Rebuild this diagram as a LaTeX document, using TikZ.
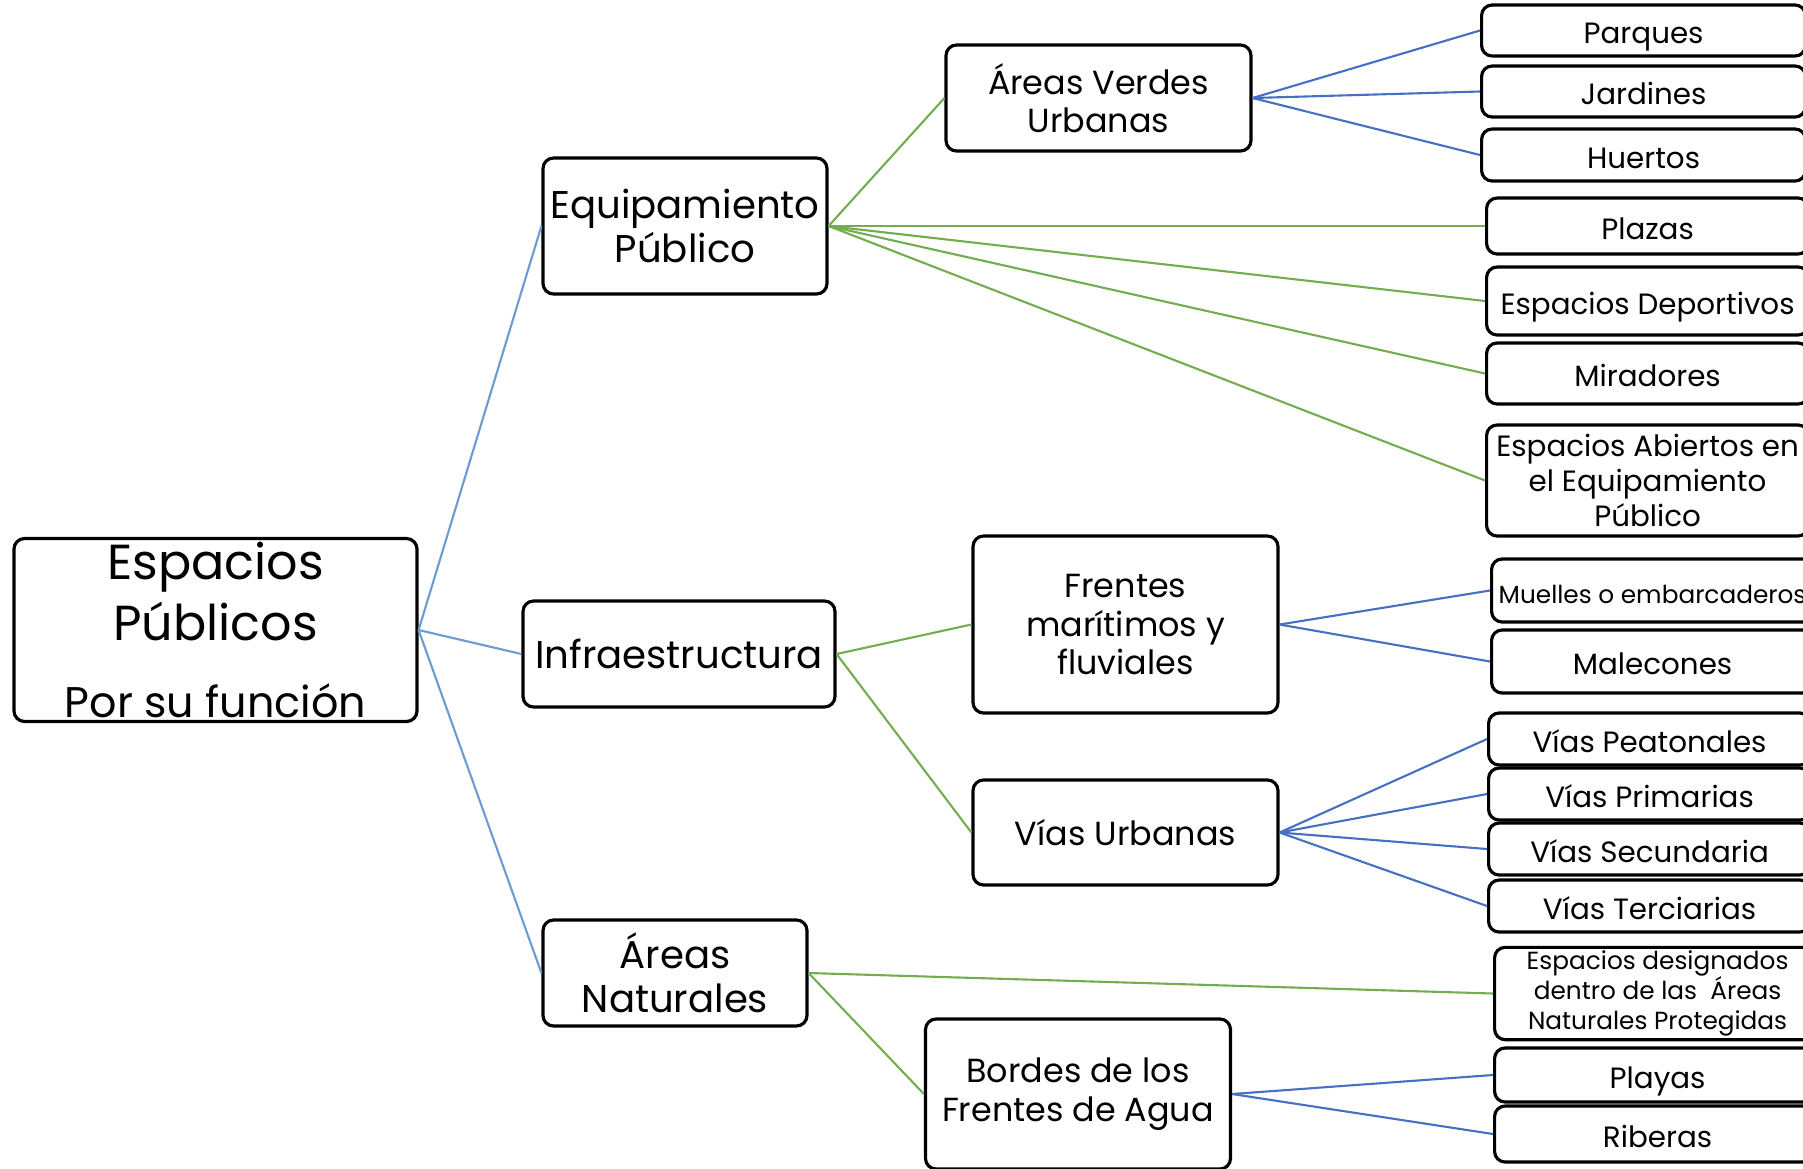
\documentclass[tikz,border=0pt]{standalone}
\usepackage{fontspec}
\setmainfont{Poppins}
\usepackage{tikz}
\definecolor{rootblue}{RGB}{108,155,210}
\definecolor{leafblue}{RGB}{70,112,196}
\definecolor{branchgreen}{RGB}{116,172,80}
\tikzstyle{box}=[draw, rounded corners=3pt, line width=0.9pt, align=center, inner sep=1pt]
\tikzstyle{mid}=[box, font=\fontsize{11}{12.4}\selectfont]
\tikzstyle{sub}=[box, font=\fontsize{9.5}{11}\selectfont, minimum width=3.05cm]
\tikzstyle{leaf}=[box, anchor=west, font=\fontsize{8.35}{9.9}\selectfont, text height=1.35ex, text depth=0pt]
\tikzstyle{multi}=[text height=, text depth=]
\tikzstyle{small}=[font=\fontsize{7.05}{8.5}\selectfont]
\tikzstyle{rootline}=[rootblue, line width=0.6pt]
\tikzstyle{greenline}=[branchgreen, line width=0.6pt]
\tikzstyle{blueline}=[leafblue, line width=0.6pt]

\begin{document}
\begin{tikzpicture}
\useasboundingbox (0,0) rectangle (18.03,-11.68);
\clip (0,0) rectangle (18.03,-11.68);
% the root
\node[box, inner sep=0pt, minimum width=4.03cm, minimum height=1.83cm,
  font=\fontsize{14}{17.3}\selectfont] (R) at (2.155,-6.3)
  {Espacios\\Públicos\\[4.5pt]{\fontsize{12.2}{14}\selectfont Por su función}};
% the second level
\node[mid, minimum width=2.84cm, minimum height=1.36cm] (B1) at (6.85,-2.26) {Equipamiento\\Público};
\node[mid, minimum width=3.12cm, minimum height=1.06cm] (B2) at (6.79,-6.54) {Infraestructura};
\node[mid, minimum width=2.64cm, minimum height=1.06cm] (B3) at (6.75,-9.73) {Áreas\\Naturales};
% the third level
\node[sub, minimum height=1.06cm] (C1) at (10.985,-0.98) {Áreas Verdes\\Urbanas};
\node[sub, minimum height=1.77cm] (C2) at (11.255,-6.245) {Frentes\\marítimos y\\fluviales};
\node[sub, minimum height=1.05cm] (C3) at (11.255,-8.325) {Vías Urbanas};
\node[sub, minimum height=1.50cm] (C4) at (10.78,-10.94) {Bordes de los\\Frentes de Agua};
% the leaves
\node[leaf, minimum width=3.24cm, minimum height=0.51cm] (D1) at (14.80,-0.305) {Parques};
\node[leaf, minimum width=3.24cm, minimum height=0.51cm] (D2) at (14.80,-0.915) {Jardines};
\node[leaf, minimum width=3.24cm, minimum height=0.52cm] (D3) at (14.80,-1.55) {Huertos};
\node[leaf, minimum width=3.22cm, minimum height=0.56cm] (D4) at (14.85,-2.26) {Plazas};
\node[leaf, minimum width=3.22cm, minimum height=0.68cm] (D5) at (14.85,-3.01) {Espacios Deportivos};
\node[leaf, minimum width=3.22cm, minimum height=0.61cm] (D6) at (14.85,-3.735) {Miradores};
\node[leaf, multi, minimum width=3.22cm, minimum height=1.11cm] (D7) at (14.85,-4.805) {Espacios Abiertos en\\el Equipamiento\\Público};
\node[leaf, small, minimum width=3.22cm, minimum height=0.63cm] (D8) at (14.90,-5.905) {Muelles o embarcaderos};
\node[leaf, minimum width=3.22cm, minimum height=0.63cm] (D9) at (14.90,-6.615) {Malecones};
\node[leaf, minimum width=3.22cm, minimum height=0.52cm] (D10) at (14.87,-7.39) {Vías Peatonales};
\node[leaf, minimum width=3.22cm, minimum height=0.52cm] (D11) at (14.87,-7.94) {Vías Primarias};
\node[leaf, minimum width=3.22cm, minimum height=0.52cm] (D12) at (14.87,-8.49) {Vías Secundaria};
\node[leaf, minimum width=3.22cm, minimum height=0.52cm] (D13) at (14.87,-9.06) {Vías Terciarias};
\node[leaf, multi, small, minimum width=3.26cm, minimum height=0.89cm] (D14) at (14.93,-9.935) {Espacios designados\\dentro de las\ \ Áreas\\Naturales Protegidas};
\node[leaf, minimum width=3.26cm, minimum height=0.54cm] (D15) at (14.93,-10.75) {Playas};
\node[leaf, minimum width=3.26cm, minimum height=0.56cm] (D16) at (14.93,-11.34) {Riberas};
% the connectors
\foreach \n in {B1,B2,B3} \draw[rootline] (R.east) -- (\n.west);
\foreach \n in {C1,D4,D5,D6,D7} \draw[greenline] (B1.east) -- (\n.west);
\foreach \n in {C2,C3} \draw[greenline] (B2.east) -- (\n.west);
\foreach \n in {D14,C4} \draw[greenline] (B3.east) -- (\n.west);
\foreach \n in {D1,D2,D3} \draw[blueline] (C1.east) -- (\n.west);
\foreach \n in {D8,D9} \draw[blueline] (C2.east) -- (\n.west);
\foreach \n in {D10,D11,D12,D13} \draw[blueline] (C3.east) -- (\n.west);
\foreach \n in {D15,D16} \draw[blueline] (C4.east) -- (\n.west);
\end{tikzpicture}
\end{document}
